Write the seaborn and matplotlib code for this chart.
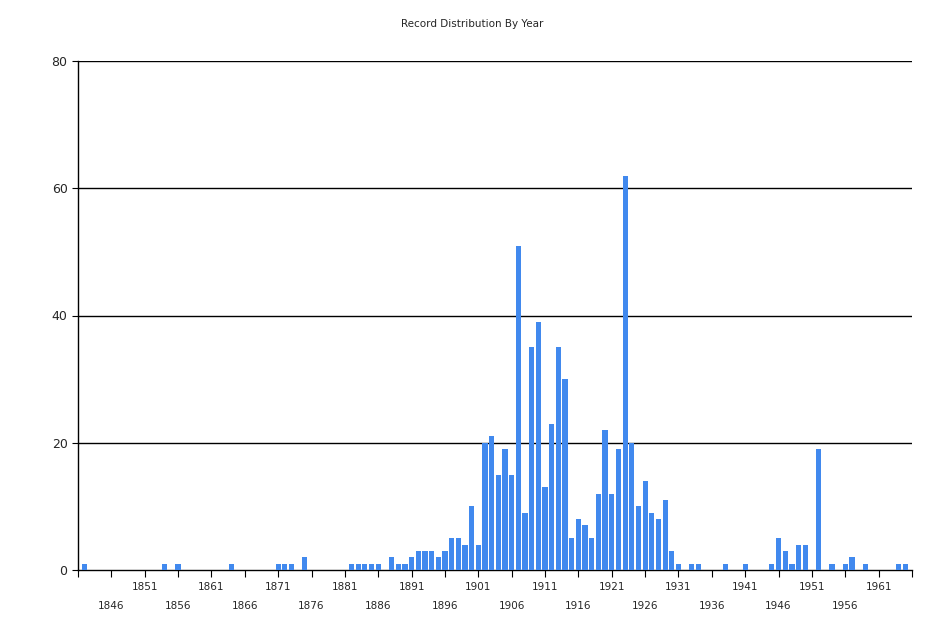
import matplotlib
matplotlib.use("Agg")
import matplotlib.pyplot as plt
import numpy as np
import pandas as pd
import seaborn as sns

years = [1842, 1854, 1856, 1864, 1871, 1872, 1873, 1875,
         1882, 1883, 1884, 1885, 1886, 1888, 1889, 1890,
         1891, 1892, 1893, 1894, 1895, 1896, 1897, 1898, 1899, 1900,
         1901, 1902, 1903, 1904, 1905, 1906, 1907, 1908, 1909, 1910,
         1911, 1912, 1913, 1914, 1915, 1916, 1917, 1918, 1919, 1920,
         1921, 1922, 1923, 1924, 1925, 1926, 1927, 1928, 1929, 1930,
         1931, 1933, 1934, 1938, 1941, 1945, 1946, 1947, 1948, 1949,
         1950, 1952, 1954, 1956, 1957, 1959, 1964, 1965]
counts = [1, 1, 1, 1, 1, 1, 1, 2,
          1, 1, 1, 1, 1, 2, 1, 1,
          2, 3, 3, 3, 2, 3, 5, 5, 4, 10,
          4, 20, 21, 15, 19, 15, 51, 9, 35, 39,
          13, 23, 35, 30, 5, 8, 7, 5, 12, 22,
          12, 19, 62, 20, 10, 14, 9, 8, 11, 3,
          1, 1, 1, 1, 1, 1, 5, 3, 1, 4,
          4, 19, 1, 1, 2, 1, 1, 1]
tick_years = list(range(1841, 1967, 5))
y_ticks = [0, 20, 40, 60, 80]

df = pd.DataFrame({"year": years, "count": counts})

sns.set_style("white")
fig = plt.figure(figsize=(9.45, 6.3), dpi=100)
ax = fig.add_axes([78 / 945, 60 / 630, 834 / 945, 509 / 630])

sns.barplot(data=df, x="year", y="count", native_scale=True, width=0.78,
            color="#4189ee", saturation=1, linewidth=0, ax=ax, zorder=3)

ax.set_xlim(1841, 1966)
ax.set_ylim(0, 80)
ax.set_yticks(y_ticks)
ax.tick_params(axis="y", labelsize=9, length=4, color="black", left=True)
ax.set_xticks(tick_years)
labels = []
for i, yr in enumerate(tick_years):
    if i == 0 or yr == 1966:
        labels.append("")
    elif i % 2 == 0:
        labels.append(str(yr))
    else:
        labels.append("\n" + str(yr))
ax.set_xticklabels(labels, fontsize=7.5, linespacing=2.2)
ax.tick_params(axis="x", length=5, color="black", bottom=True)
for y in y_ticks[1:]:
    ax.axhline(y, color="black", linewidth=1, zorder=1)
ax.set_xlabel("")
ax.set_ylabel("")
for s in ["top", "right"]:
    ax.spines[s].set_visible(False)
for s in ["left", "bottom"]:
    ax.spines[s].set_color("black")
    ax.spines[s].set_linewidth(1)

fig.suptitle("Record Distribution By Year", y=1 - 19 / 630, fontsize=7.5)
fig.savefig("out.png", dpi=100, facecolor="white")
